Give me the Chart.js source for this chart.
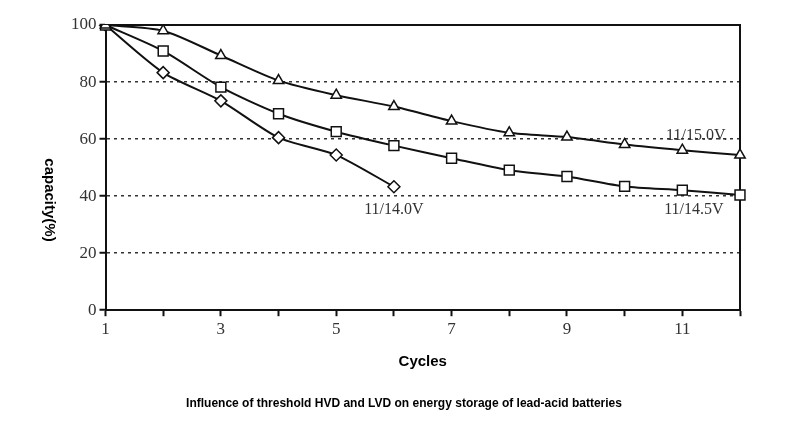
<!DOCTYPE html>
<html>
<head>
<meta charset="utf-8">
<script src="https://cdn.jsdelivr.net/npm/chart.js@4/dist/chart.umd.min.js"></script>
<style>
  html, body { margin: 0; padding: 0; background: #fff; }
  #wrap { width: 800px; height: 435px; }
</style>
</head>
<body>
<div id="wrap"><canvas id="c" width="800" height="435"></canvas></div>
<script>
// ---- data ----
const cycles = [1, 2, 3, 4, 5, 6, 7, 8, 9, 10, 11, 12];
const xTickLabels = ['1', '', '3', '', '5', '', '7', '', '9', '', '11', ''];
const yTicks = [0, 20, 40, 60, 80, 100];
const cap150 = [100, 98.0, 89.3, 80.5, 75.4, 71.4, 66.3, 62.2, 60.7, 58.1, 56.1, 54.4];
const cap145 = [100, 90.9, 78.2, 68.9, 62.6, 57.7, 53.3, 49.1, 46.9, 43.4, 42.1, 40.4];
const cap140 = [100, 83.3, 73.4, 60.5, 54.4, 43.3];
const seriesNames = ['11/15.0V.', '11/14.5V', '11/14.0V'];
const labelAnchors = [[10.25, 61.0], [10.2, 35.1], [5.0, 35.1]]; // [category index, value]
const yTitle = 'capacity(%)';
const xTitle = 'Cycles';
const caption = 'Influence of threshold HVD and LVD on energy storage of lead-acid batteries';

const serif = "'Liberation Serif', 'DejaVu Serif', serif";
const sans = "'Liberation Sans', Arial, sans-serif";

const frame = {
  id: 'frame',
  beforeDatasetsDraw(chart) {
    const { ctx, chartArea: a } = chart;
    ctx.save();
    ctx.strokeStyle = '#111';
    ctx.lineWidth = 2;
    ctx.beginPath();
    ctx.moveTo(a.left, a.top);
    ctx.lineTo(a.right, a.top);
    ctx.lineTo(a.right, a.bottom);
    ctx.stroke();
    ctx.restore();
  },
  afterDraw(chart) {
    const { ctx, scales } = chart;
    ctx.save();
    // series labels
    ctx.fillStyle = '#333';
    ctx.font = '16px ' + serif;
    ctx.textAlign = 'center';
    ctx.textBaseline = 'middle';
    seriesNames.forEach((n, i) => {
      const [xi, yv] = labelAnchors[i];
      const px = scales.x.getPixelForValue(xi);
      const py = scales.y.getPixelForValue(yv);
      ctx.fillText(n, px, py);
    });
    // rotated y title (reads top to bottom)
    ctx.fillStyle = '#000';
    ctx.font = 'bold 15px ' + sans;
    ctx.translate(49, 200);
    ctx.rotate(Math.PI / 2);
    ctx.fillText(yTitle, 0, 0);
    ctx.restore();
  }
};

const ds = (label, data, style) => ({
  label, data,
  borderColor: '#111',
  borderWidth: 2,
  backgroundColor: '#fff',
  pointStyle: style,
  pointRadius: style === 'rect' ? 7 : 6,
  pointBackgroundColor: '#fff',
  pointBorderColor: '#111',
  pointBorderWidth: 1.5,
  tension: 0.25,
  fill: false
});

new Chart(document.getElementById('c'), {
  type: 'line',
  data: {
    labels: cycles,
    datasets: [
      ds(seriesNames[0], cap150, 'triangle'),
      ds(seriesNames[1], cap145, 'rect'),
      ds(seriesNames[2], cap140, 'rectRot')
    ]
  },
  options: {
    responsive: false,
    animation: false,
    layout: { padding: { left: 68, right: 60, top: 25, bottom: 24 } },
    plugins: {
      legend: { display: false },
      tooltip: { enabled: false },
      title: {
        display: true,
        position: 'bottom',
        text: caption,
        color: '#000',
        font: { family: sans, size: 12, weight: 'bold' },
        padding: { top: 26, bottom: 0 }
      }
    },
    scales: {
      x: {
        type: 'category',
        offset: false,
        grid: { display: true, drawOnChartArea: false, drawTicks: true, tickLength: 6, tickColor: '#111', tickWidth: 2 },
        border: { display: true, color: '#111', width: 2 },
        ticks: {
          color: '#333',
          font: { family: serif, size: 17 },
          padding: 3,
          autoSkip: false,
          maxRotation: 0,
          callback: (v, i) => xTickLabels[i]
        },
        title: {
          display: true,
          text: xTitle,
          color: '#000',
          font: { family: sans, size: 15, weight: 'bold' },
          padding: { top: 10, bottom: 0 }
        }
      },
      y: {
        min: 0, max: 100,
        afterBuildTicks: (s) => { s.ticks = yTicks.map(v => ({ value: v })); },
        grid: { color: '#333', lineWidth: 1.5, tickLength: 6, tickColor: '#111', tickWidth: 2 },
        border: { display: true, color: '#111', width: 2, dash: [3, 4] },
        ticks: {
          color: '#333',
          font: { family: serif, size: 17 },
          padding: 3
        }
      }
    }
  },
  plugins: [frame]
});
</script>
</body>
</html>
